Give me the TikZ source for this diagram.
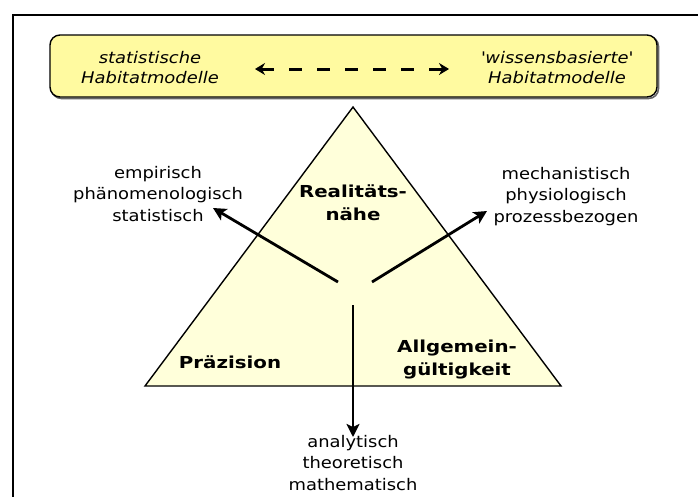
\documentclass[tikz,border=0pt]{standalone}
\usepackage{fontspec}
\setmainfont{DejaVu Sans}
\newfontfamily\labfont[FakeStretch=1.12]{DejaVu Sans}
\newfontfamily\cornerfont[FakeStretch=1.2]{DejaVu Sans}
\usetikzlibrary{arrows.meta}
\definecolor{boxyellow}{RGB}{255,250,160}
\definecolor{trifill}{RGB}{255,255,218}
\begin{document}
\begin{tikzpicture}[x=1pt,y=-1pt,
  lab/.style={font=\labfont\fontsize{16}{21.5}\selectfont, align=center, inner sep=0pt, anchor=base},
  corner/.style={font=\cornerfont\bfseries\fontsize{16.5}{22.5}\selectfont, align=center, inner sep=0pt, anchor=base},
  toplab/.style={font=\labfont\itshape\fontsize{16}{20}\selectfont, align=center, inner sep=0pt, anchor=base},
  arr/.style={line width=2.8pt, -{Stealth[length=13pt,width=13pt,inset=3pt]}},
  dasharr/.style={line width=3pt, dash pattern=on 13pt off 15pt, {Stealth[length=10pt,width=12pt]}-{Stealth[length=10pt,width=12pt]}}]
\useasboundingbox (0,0) rectangle (698,496);
\begin{scope}
\clip (0,0) rectangle (698,496);
\draw[line width=2pt] (13,15) rectangle (730,530);
\end{scope}
% top box
\draw[line width=1.6pt, rounded corners=10pt, draw=black!60] (51.5,36.5) rectangle (658.5,98.5);
\draw[line width=1.4pt, rounded corners=10pt, fill=boxyellow] (50,35) rectangle (657,97);
\node[toplab] (stat) at (150,83) {statistische\\Habitatmodelle};
\node[toplab] (wiss) at (557,83) {\textquotesingle wissensbasierte\textquotesingle\\Habitatmodelle};
\coordinate (dl) at (255,69);
\coordinate (dr) at (449,69);
\draw[dasharr] (dl) -- (dr);
% triangle
\coordinate (apex) at (353,107);
\coordinate (bl) at (145,386);
\coordinate (br) at (561,386);
\draw[line width=1.4pt, fill=trifill, line join=miter] (apex) -- (bl) -- (br) -- cycle;
\node[corner] (real) at (353,220) {Realitäts-\\nähe};
\node[corner] (praez) at (230,368) {Präzision};
\node[corner] (allg) at (457,375) {Allgemein-\\gültigkeit};
% labels
\node[lab] (emp) at (158,221) {empirisch\\phänomenologisch\\statistisch};
\node[lab] (mech) at (566,222) {mechanistisch\\physiologisch\\prozessbezogen};
\node[lab] (ana) at (353,490) {analytisch\\theoretisch\\mathematisch};
% arrows
\coordinate (cl) at (338,282);
\coordinate (cr) at (372,282);
\coordinate (cd) at (353,305);
\coordinate (tl) at (213,208);
\coordinate (tr) at (487,211);
\coordinate (td) at (353,437);
\draw[arr] (cl) -- (tl);
\draw[arr] (cr) -- (tr);
\draw[arr] (cd) -- (td);
\end{tikzpicture}
\end{document}
